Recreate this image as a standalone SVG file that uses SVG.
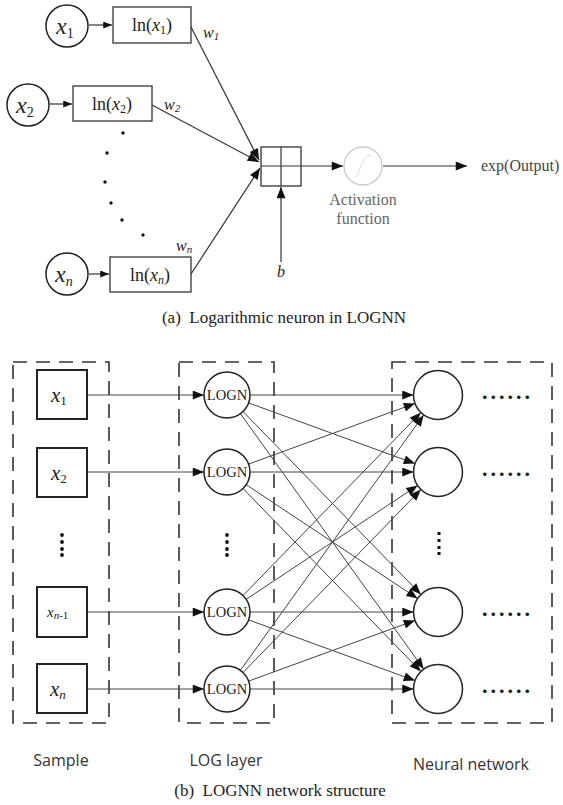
<svg xmlns="http://www.w3.org/2000/svg" width="563" height="805" viewBox="0 0 563 805">
<defs>
<marker id="ah" viewBox="0 0 10 8" refX="10" refY="4" markerWidth="12" markerHeight="9" markerUnits="userSpaceOnUse" orient="auto"><path d="M0,0 L10,4 L0,8 Z" fill="#111"/></marker>
<marker id="ahs" viewBox="0 0 10 8" refX="10" refY="4" markerWidth="10" markerHeight="7" markerUnits="userSpaceOnUse" orient="auto"><path d="M0,0 L10,4 L0,8 Z" fill="#111"/></marker>
<style>
.ln{stroke:#333;stroke-width:1.2;fill:none}
.thin{stroke:#444;stroke-width:1;fill:none}
.box{stroke:#333;stroke-width:1.3;fill:#fff}
.sbox{stroke:#222;stroke-width:2;fill:#fff}
.circ{stroke:#222;stroke-width:1.5;fill:#fff}
.dash{stroke:#333;stroke-width:1.6;fill:none;stroke-dasharray:14 9}
.m{font-family:"Liberation Serif",serif;font-style:italic;fill:#222}
.t{font-family:"Liberation Serif",serif;fill:#222}
.s{font-family:"Open Sans","DejaVu Sans",sans-serif;fill:#333}
.dot{fill:#111}
.dd{font-family:"Liberation Serif",serif;font-size:22px;font-weight:bold;letter-spacing:3px;fill:#111}
</style>
</defs>
<rect width="563" height="805" fill="#fff"/>

<!-- (a) -->
<g id="connectors-a">
<line class="ln" x1="89" y1="25" x2="112" y2="25" marker-end="url(#ahs)"/>
<line class="ln" x1="50" y1="104" x2="72" y2="104" marker-end="url(#ahs)"/>
<line class="ln" x1="89" y1="274" x2="109" y2="274" marker-end="url(#ahs)"/>
<line class="ln" x1="191" y1="27" x2="259" y2="160" marker-end="url(#ah)"/>
<line class="ln" x1="152" y1="105" x2="259" y2="162" marker-end="url(#ah)"/>
<line class="ln" x1="191" y1="274" x2="260" y2="168" marker-end="url(#ah)"/>
<line class="ln" x1="281" y1="262" x2="281" y2="187" marker-end="url(#ah)"/>
<line class="ln" x1="301" y1="166" x2="343" y2="166" marker-end="url(#ah)"/>
<line class="ln" x1="383" y1="166" x2="467" y2="166" marker-end="url(#ah)"/>
</g>
<g id="x1-in"><circle class="circ" cx="67" cy="26" r="21"/><text class="m" x="56" y="34" font-size="24">x<tspan font-size="14" font-style="normal" dy="4">1</tspan></text></g>
<g id="ln-x1"><rect class="box" x="113" y="7" width="78" height="36"/><text class="t" x="152" y="31" font-size="18" text-anchor="middle">ln(<tspan font-style="italic">x</tspan><tspan font-size="12" dy="3">1</tspan><tspan dy="-3">)</tspan></text></g>
<g id="x2-in"><circle class="circ" cx="28" cy="105" r="21"/><text class="m" x="16" y="113" font-size="24">x<tspan font-size="14" font-style="normal" dy="4">2</tspan></text></g>
<g id="ln-x2"><rect class="box" x="73" y="86" width="79" height="35"/><text class="t" x="112" y="110" font-size="18" text-anchor="middle">ln(<tspan font-style="italic">x</tspan><tspan font-size="12" dy="3">2</tspan><tspan dy="-3">)</tspan></text></g>
<g id="xn-in"><circle class="circ" cx="67" cy="274" r="21"/><text class="m" x="55" y="282" font-size="24">x<tspan font-size="14" dy="4">n</tspan></text></g>
<g id="ln-xn"><rect class="box" x="110" y="257" width="81" height="35"/><text class="t" x="150" y="281" font-size="18" text-anchor="middle">ln(<tspan font-style="italic">x</tspan><tspan font-size="12" font-style="italic" dy="3">n</tspan><tspan dy="-3">)</tspan></text></g>
<g id="dots-a">
<circle class="dot" cx="123" cy="133" r="1.7"/><circle class="dot" cx="107" cy="153" r="1.7"/><circle class="dot" cx="105" cy="182" r="1.7"/><circle class="dot" cx="111" cy="203" r="1.7"/><circle class="dot" cx="122" cy="220" r="1.7"/><circle class="dot" cx="143" cy="235" r="1.7"/>
</g>
<g id="weights">
<text class="m" x="203" y="38" font-size="16">w<tspan font-size="11" dy="2">1</tspan></text>
<text class="m" x="164" y="110" font-size="16">w<tspan font-size="11" dy="2">2</tspan></text>
<text class="m" x="176" y="251" font-size="16">w<tspan font-size="11" dy="2">n</tspan></text>
<text class="m" x="277" y="277" font-size="16">b</text>
</g>
<g id="sum"><rect class="box" x="261" y="147" width="40" height="39"/><line class="ln" x1="281" y1="147" x2="281" y2="186"/><line class="ln" x1="261" y1="166" x2="301" y2="166"/></g>
<g id="activation"><circle cx="363" cy="166" r="19" fill="#fff" stroke="#ccc" stroke-width="1.3"/><path d="M355,177 C360,177 360,156 371,155" stroke="#ddd" fill="none"/>
<text x="363" y="205" font-size="16" text-anchor="middle" class="t" style="fill:#666">Activation</text>
<text x="363" y="224" font-size="16" text-anchor="middle" class="t" style="fill:#666">function</text></g>
<g id="output"><text class="t" x="481" y="171" font-size="16" style="fill:#444">exp(Output)</text></g>
<text class="t" x="284" y="323" font-size="17" text-anchor="middle" xml:space="preserve">(a)  Logarithmic neuron in LOGNN</text>

<!-- (b) -->
<g id="groups">
<rect class="dash" x="13" y="362" width="96" height="361"/>
<rect class="dash" x="179" y="362" width="95" height="361"/>
<rect class="dash" x="392" y="362" width="160" height="361"/>
</g>
<g id="connectors-b">
<line class="thin" x1="87" y1="395" x2="204" y2="395" marker-end="url(#ah)"/>
<line class="thin" x1="87" y1="472" x2="204" y2="472" marker-end="url(#ah)"/>
<line class="thin" x1="87" y1="612" x2="204" y2="612" marker-end="url(#ah)"/>
<line class="thin" x1="87" y1="689" x2="204" y2="689" marker-end="url(#ah)"/>
<line class="thin" x1="250" y1="395" x2="413.5" y2="395" marker-end="url(#ah)"/>
<line class="thin" x1="248.6" y1="402.9" x2="415" y2="463.6" marker-end="url(#ah)"/>
<line class="thin" x1="243" y1="411.5" x2="420.9" y2="594.4" marker-end="url(#ah)"/>
<line class="thin" x1="240.4" y1="413.7" x2="423.7" y2="669.1" marker-end="url(#ah)"/>
<line class="thin" x1="248.6" y1="464.1" x2="415" y2="403.4" marker-end="url(#ah)"/>
<line class="thin" x1="250" y1="472" x2="413.5" y2="472" marker-end="url(#ah)"/>
<line class="thin" x1="246.2" y1="484.7" x2="417.6" y2="598.5" marker-end="url(#ah)"/>
<line class="thin" x1="243" y1="488.5" x2="420.9" y2="671.4" marker-end="url(#ah)"/>
<line class="thin" x1="243" y1="595.5" x2="420.9" y2="412.6" marker-end="url(#ah)"/>
<line class="thin" x1="246.2" y1="599.3" x2="417.6" y2="485.5" marker-end="url(#ah)"/>
<line class="thin" x1="250" y1="612" x2="413.5" y2="612" marker-end="url(#ah)"/>
<line class="thin" x1="248.6" y1="619.9" x2="415" y2="680.6" marker-end="url(#ah)"/>
<line class="thin" x1="240.4" y1="670.3" x2="423.7" y2="414.9" marker-end="url(#ah)"/>
<line class="thin" x1="243" y1="672.5" x2="420.9" y2="489.6" marker-end="url(#ah)"/>
<line class="thin" x1="248.6" y1="681.1" x2="415" y2="620.4" marker-end="url(#ah)"/>
<line class="thin" x1="250" y1="689" x2="413.5" y2="689" marker-end="url(#ah)"/>
</g>
<g id="s1"><rect class="sbox" x="37" y="370" width="50" height="49"/><text class="m" x="51" y="402" font-size="21">x<tspan font-size="13" font-style="normal" dy="3">1</tspan></text></g>
<g id="s2"><rect class="sbox" x="37" y="448" width="50" height="49"/><text class="m" x="51" y="480" font-size="21">x<tspan font-size="13" font-style="normal" dy="3">2</tspan></text></g>
<g id="s-dots"><circle class="dot" cx="62" cy="535" r="1.9"/><circle class="dot" cx="62" cy="542" r="1.9"/><circle class="dot" cx="62" cy="549" r="1.9"/><circle class="dot" cx="62" cy="555" r="1.9"/></g>
<g id="sn1"><rect class="sbox" x="37" y="587" width="50" height="50"/><text class="m" x="47" y="617" font-size="15">x<tspan font-size="11" dy="2">n</tspan><tspan font-size="11" font-style="normal">-1</tspan></text></g>
<g id="sn"><rect class="sbox" x="37" y="664" width="50" height="49"/><text class="m" x="50" y="696" font-size="21">x<tspan font-size="13" dy="3">n</tspan></text></g>
<g id="logn1"><circle class="circ" cx="227" cy="395" r="23"/><text class="t" x="227" y="400" font-size="14.5" text-anchor="middle">LOGN</text></g>
<g id="logn2"><circle class="circ" cx="227" cy="472" r="23"/><text class="t" x="227" y="477" font-size="14.5" text-anchor="middle">LOGN</text></g>
<g id="l-dots"><circle class="dot" cx="227" cy="535" r="1.9"/><circle class="dot" cx="227" cy="542" r="1.9"/><circle class="dot" cx="227" cy="549" r="1.9"/><circle class="dot" cx="227" cy="555" r="1.9"/></g>
<g id="logn3"><circle class="circ" cx="227" cy="612" r="23"/><text class="t" x="227" y="617" font-size="14.5" text-anchor="middle">LOGN</text></g>
<g id="logn4"><circle class="circ" cx="227" cy="689" r="23"/><text class="t" x="227" y="694" font-size="14.5" text-anchor="middle">LOGN</text></g>
<g id="nn1"><circle class="circ" cx="438" cy="395" r="24.5"/><text class="dd" x="482" y="399">......</text></g>
<g id="nn2"><circle class="circ" cx="438" cy="472" r="24.5"/><text class="dd" x="482" y="476">......</text></g>
<g id="n-dots"><rect class="dot" x="437.5" y="532" width="3" height="3"/><rect class="dot" x="437.5" y="539" width="3" height="3"/><rect class="dot" x="437.5" y="546" width="3" height="3"/><rect class="dot" x="437.5" y="552" width="3" height="3"/></g>
<g id="nn3"><circle class="circ" cx="438" cy="612" r="24.5"/><text class="dd" x="482" y="616">......</text></g>
<g id="nn4"><circle class="circ" cx="438" cy="689" r="24.5"/><text class="dd" x="482" y="693">......</text></g>
<g id="labels-b">
<text class="s" x="61" y="766" font-size="16" text-anchor="middle">Sample</text>
<text class="s" x="226" y="766" font-size="16" text-anchor="middle">LOG layer</text>
<text class="s" x="471" y="770" font-size="16" text-anchor="middle">Neural network</text>
</g>
<text class="t" x="280" y="796" font-size="17" text-anchor="middle" xml:space="preserve">(b)  LOGNN network structure</text>
</svg>
